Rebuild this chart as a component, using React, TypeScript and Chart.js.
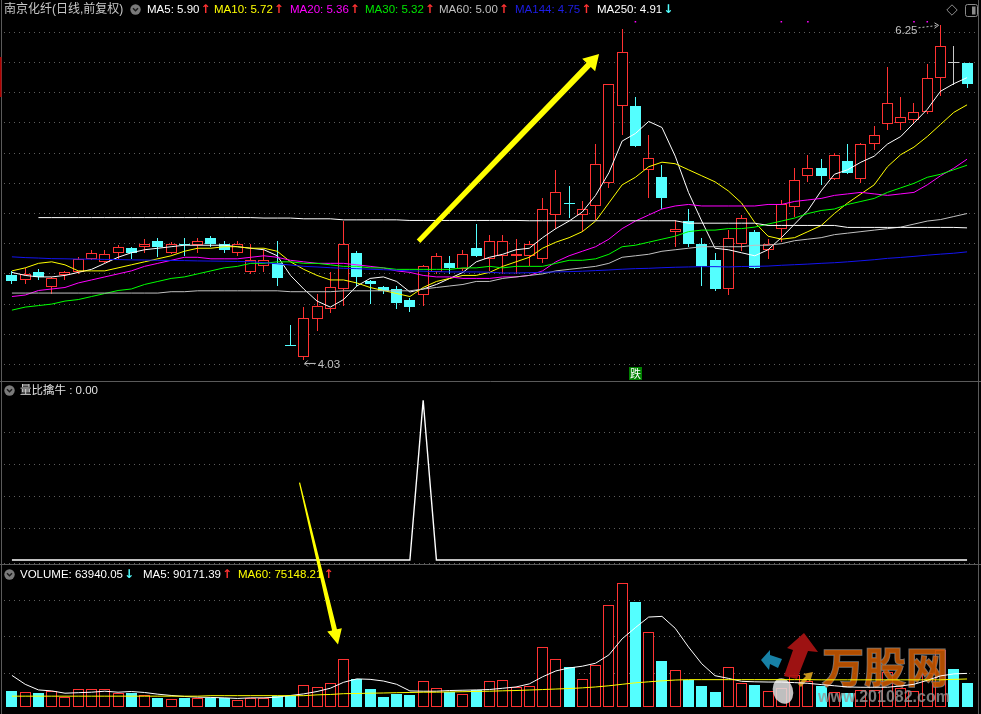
import React, { useEffect, useRef } from 'react';
import { Chart, registerables } from 'chart.js';

Chart.register(...registerables);

// ---------------- data ----------------
const days = Array.from({ length: 73 }, (_, i) => i);

const open = [4.59, 4.56, 4.61, 4.51, 4.59, 4.61, 4.70, 4.68, 4.74, 4.77,
  4.78, 4.82, 4.74, 4.80, 4.79, 4.84, 4.80, 4.74, 4.61, 4.65,
  4.67, 4.13, 4.05, 4.30, 4.37, 4.50, 4.74, 4.55, 4.51, 4.50,
  4.43, 4.46, 4.61, 4.67, 4.63, 4.77, 4.70, 4.72, 4.72, 4.72,
  4.70, 4.99, 5.07, 4.99, 5.05, 5.20, 5.71, 5.71, 5.29, 5.24,
  4.88, 4.95, 4.80, 4.69, 4.50, 4.80, 4.88, 4.76, 4.90, 5.04,
  5.25, 5.30, 5.23, 5.35, 5.23, 5.46, 5.59, 5.60, 5.62, 5.67,
  5.90, 6.00, 6.00];
const high = [4.62, 4.64, 4.63, 4.58, 4.62, 4.71, 4.76, 4.76, 4.79, 4.78,
  4.83, 4.84, 4.81, 4.84, 4.84, 4.85, 4.82, 4.82, 4.80, 4.76,
  4.82, 4.26, 4.38, 4.47, 4.61, 4.95, 4.75, 4.56, 4.52, 4.52,
  4.44, 4.66, 4.74, 4.72, 4.76, 4.93, 4.86, 4.86, 4.83, 4.82,
  5.10, 5.29, 5.18, 5.08, 5.46, 5.86, 6.22, 5.77, 5.52, 5.32,
  4.96, 5.03, 4.84, 4.74, 4.89, 4.99, 4.89, 4.83, 5.09, 5.30,
  5.39, 5.36, 5.40, 5.46, 5.47, 5.58, 5.97, 5.77, 5.73, 5.99,
  6.25, 6.11, 6.00];
const low = [4.53, 4.53, 4.56, 4.47, 4.56, 4.60, 4.69, 4.67, 4.70, 4.70,
  4.74, 4.71, 4.73, 4.72, 4.74, 4.78, 4.74, 4.72, 4.60, 4.61,
  4.52, 4.12, 4.03, 4.22, 4.34, 4.39, 4.52, 4.40, 4.47, 4.37,
  4.35, 4.39, 4.60, 4.60, 4.62, 4.71, 4.62, 4.60, 4.60, 4.65,
  4.67, 4.90, 4.97, 4.88, 4.96, 5.17, 5.52, 5.44, 5.10, 5.03,
  4.78, 4.78, 4.52, 4.49, 4.46, 4.75, 4.63, 4.70, 4.81, 4.98,
  5.21, 5.19, 5.22, 5.26, 5.20, 5.42, 5.55, 5.55, 5.60, 5.66,
  5.78, 5.85, 5.83];
const close = [4.55, 4.60, 4.58, 4.57, 4.61, 4.70, 4.74, 4.73, 4.78, 4.74,
  4.80, 4.78, 4.80, 4.79, 4.82, 4.80, 4.76, 4.80, 4.69, 4.69,
  4.57, 4.12, 4.31, 4.39, 4.51, 4.80, 4.58, 4.53, 4.49, 4.41,
  4.38, 4.65, 4.72, 4.64, 4.73, 4.72, 4.82, 4.82, 4.73, 4.80,
  5.03, 5.14, 5.06, 5.03, 5.33, 5.86, 6.07, 5.45, 5.37, 5.10,
  4.90, 4.80, 4.65, 4.50, 4.84, 4.97, 4.64, 4.80, 5.06, 5.22,
  5.30, 5.25, 5.39, 5.27, 5.46, 5.52, 5.73, 5.64, 5.67, 5.90,
  6.11, 6.00, 5.86];

const ma5 = [4.61, 4.59, 4.58, 4.58, 4.59, 4.61, 4.63, 4.67, 4.71, 4.74,
  4.76, 4.77, 4.78, 4.79, 4.79, 4.79, 4.79, 4.78, 4.77, 4.76,
  4.72, 4.59, 4.50, 4.42, 4.38, 4.43, 4.52, 4.57, 4.58, 4.55,
  4.48, 4.50, 4.53, 4.57, 4.61, 4.68, 4.71, 4.73, 4.76, 4.77,
  4.84, 4.90, 4.95, 5.01, 5.12, 5.27, 5.48, 5.53, 5.61, 5.57,
  5.38, 5.14, 4.95, 4.77, 4.76, 4.74, 4.72, 4.76, 4.84, 4.93,
  5.02, 5.15, 5.26, 5.29, 5.34, 5.38, 5.46, 5.51, 5.60, 5.69,
  5.81, 5.86, 5.90];
const ma10 = [4.62, 4.64, 4.67, 4.68, 4.66, 4.62, 4.62, 4.62, 4.64, 4.66,
  4.68, 4.70, 4.72, 4.75, 4.77, 4.77, 4.78, 4.78, 4.77, 4.77,
  4.75, 4.68, 4.63, 4.59, 4.56, 4.56, 4.54, 4.51, 4.49, 4.47,
  4.45, 4.51, 4.55, 4.57, 4.59, 4.59, 4.61, 4.65, 4.68, 4.71,
  4.77, 4.81, 4.84, 4.88, 4.95, 5.07, 5.19, 5.24, 5.31, 5.34,
  5.33, 5.29, 5.25, 5.21, 5.15, 5.07, 4.94, 4.85, 4.83, 4.84,
  4.88, 4.92, 5.00, 5.07, 5.13, 5.19, 5.31, 5.39, 5.44, 5.51,
  5.59, 5.67, 5.72];
const ma20 = [4.45, 4.46, 4.49, 4.50, 4.51, 4.54, 4.56, 4.58, 4.60, 4.62,
  4.65, 4.67, 4.69, 4.71, 4.71, 4.70, 4.70, 4.70, 4.71, 4.72,
  4.71, 4.69, 4.68, 4.67, 4.67, 4.67, 4.66, 4.65, 4.64, 4.62,
  4.61, 4.59, 4.58, 4.58, 4.57, 4.57, 4.57, 4.58, 4.58, 4.59,
  4.62, 4.68, 4.72, 4.75, 4.78, 4.83, 4.90, 4.95, 4.99, 5.03,
  5.05, 5.06, 5.05, 5.05, 5.05, 5.05, 5.05, 5.06, 5.06, 5.08,
  5.09, 5.10, 5.12, 5.13, 5.14, 5.13, 5.12, 5.13, 5.14, 5.19,
  5.25, 5.30, 5.36];
const ma30 = [4.36, 4.38, 4.39, 4.40, 4.42, 4.43, 4.45, 4.47, 4.49, 4.50,
  4.53, 4.55, 4.57, 4.58, 4.60, 4.62, 4.64, 4.65, 4.67, 4.67,
  4.68, 4.68, 4.67, 4.67, 4.66, 4.65, 4.65, 4.64, 4.64, 4.63,
  4.63, 4.63, 4.63, 4.63, 4.64, 4.64, 4.65, 4.64, 4.65, 4.65,
  4.65, 4.67, 4.69, 4.69, 4.70, 4.73, 4.78, 4.79, 4.81, 4.83,
  4.85, 4.88, 4.89, 4.89, 4.90, 4.90, 4.91, 4.93, 4.95, 4.97,
  5.00, 5.02, 5.03, 5.06, 5.08, 5.10, 5.14, 5.17, 5.20, 5.24,
  5.26, 5.29, 5.32];
const ma60 = [4.473, 4.473, 4.473, 4.473, 4.473, 4.473, 4.473, 4.473, 4.473, 4.473,
  4.473, 4.473, 4.482, 4.482, 4.488, 4.488, 4.488, 4.488, 4.488, 4.488,
  4.488, 4.482, 4.482, 4.482, 4.482, 4.488, 4.488, 4.488, 4.488, 4.488,
  4.488, 4.50, 4.51, 4.52, 4.53, 4.55, 4.55, 4.57, 4.58, 4.59,
  4.60, 4.62, 4.63, 4.64, 4.65, 4.67, 4.71, 4.72, 4.73, 4.75,
  4.76, 4.77, 4.78, 4.78, 4.78, 4.78, 4.79, 4.79, 4.80, 4.82,
  4.83, 4.84, 4.86, 4.87, 4.88, 4.89, 4.90, 4.91, 4.93, 4.95,
  4.96, 4.98, 5.00];
const ma144 = [4.713, 4.708, 4.705, 4.701, 4.700, 4.698, 4.698, 4.696, 4.695, 4.693,
  4.692, 4.690, 4.689, 4.688, 4.686, 4.685, 4.684, 4.682, 4.681, 4.674,
  4.667, 4.659, 4.650, 4.646, 4.641, 4.637, 4.635, 4.631, 4.628, 4.624,
  4.620, 4.618, 4.615, 4.613, 4.613, 4.613, 4.611, 4.606, 4.606, 4.608,
  4.611, 4.613, 4.615, 4.618, 4.622, 4.626, 4.631, 4.635, 4.637, 4.641,
  4.644, 4.646, 4.648, 4.648, 4.646, 4.649, 4.650, 4.652, 4.657, 4.661,
  4.665, 4.670, 4.674, 4.680, 4.687, 4.694, 4.703, 4.709, 4.716, 4.724,
  4.731, 4.737, 4.746];
const ma250 = [null, null, 4.973, 4.973, 4.973, 4.973, 4.973, 4.973, 4.973, 4.973,
  4.973, 4.973, 4.973, 4.973, 4.973, 4.973, 4.973, 4.973, 4.973, 4.970,
  4.970, 4.970, 4.965, 4.965, 4.965, 4.958, 4.958, 4.958, 4.958, 4.958,
  4.954, 4.954, 4.954, 4.954, 4.954, 4.954, 4.954, 4.954, 4.954, 4.952,
  4.952, 4.952, 4.952, 4.952, 4.952, 4.952, 4.952, 4.952, 4.952, 4.952,
  4.952, 4.936, 4.936, 4.936, 4.936, 4.936, 4.936, 4.921, 4.921, 4.921,
  4.921, 4.921, 4.921, 4.908, 4.908, 4.908, 4.908, 4.908, 4.908, 4.908,
  4.908, 4.908, 4.905];

const volume = [42400, 38960, 37100, 44260, 26500, 47700, 47700, 48200, 37100, 37100,
  31800, 24650, 21200, 23050, 24650, 23050, 23050, 17750, 24650, 23050,
  28350, 28350, 60150, 54850, 63600, 129050, 76050, 47700, 26500, 34450,
  31800, 68900, 52200, 38960, 33650, 46900, 68900, 71550, 54850, 55650,
  160850, 129050, 107850, 74200, 113150, 272150, 333100, 280900, 200600, 124550,
  99900, 71550, 55650, 39750, 107850, 63600, 60100, 42400, 50000, 85000,
  70000, 55650, 40000, 38000, 45000, 45000, 95000, 50000, 42500, 91000,
  153000, 100700, 63940.05];
const volMa5 = [84800, 60950, 45850, 43200, 37100, 38430, 39750, 42400, 39750, 41600,
  38960, 34450, 31000, 28350, 26500, 25700, 24650, 23050, 24650, 24650,
  26500, 31000, 35250, 41600, 50350, 66250, 75500, 74200, 69700, 60950,
  43200, 42400, 42400, 44260, 45050, 45850, 46900, 50350, 53800, 62000,
  81000, 96700, 104700, 109450, 117400, 139650, 182850, 212800, 241150, 243000,
  211000, 161000, 116000, 84000, 76850, 68900, 67600, 67000, 67000, 65450,
  63600, 60150, 56980, 53800, 53000, 53000, 53000, 56450, 60950, 71550,
  83500, 88800, 90171.39];
const volMa60 = [29150, 29150, 29150, 29150, 29150, 29150, 29150, 29150, 29150, 29150,
  29150, 29150, 29150, 29150, 29150, 30475, 30475, 30475, 30475, 30475,
  30475, 30475, 30475, 32600, 33650, 35775, 36300, 37100, 37630, 38425,
  38955, 39750, 39750, 40545, 41075, 41870, 42400, 43460, 44255, 45580,
  46905, 48230, 49555, 51410, 53795, 56975, 60950, 64925, 67575, 70225,
  72345, 73405, 73405, 73405, 73405, 73405, 73405, 73405, 73405, 73405,
  73405, 72875, 72875, 72875, 72875, 72875, 72875, 72875, 72875, 72875,
  72875, 74200, 75148.21];

// 量比擒牛 signal
const signal = [0, 0, 0, 0, 0, 0, 0, 0, 0, 0,
  0, 0, 0, 0, 0, 0, 0, 0, 0, 0,
  0, 0, 0, 0, 0, 0, 0, 0, 0, 0,
  0, 1, 0, 0, 0, 0, 0, 0, 0, 0,
  0, 0, 0, 0, 0, 0, 0, 0, 0, 0,
  0, 0, 0, 0, 0, 0, 0, 0, 0, 0,
  0, 0, 0, 0, 0, 0, 0, 0, 0, 0,
  0, 0, 0];

const markerDays = [47, 58, 60, 68, 69];
const markerLevel = 6.27;
const tagDay = 47;
const tagText = '跌';

// annotation arrows (x = day index, y in each pane's units)
const arrowUpFrom = { x: 30.65, y: 4.816 };
const arrowUpTo = { x: 44.26, y: 6.056 };
const arrowDownFrom = { x: 21.68, y: 0.4845 }; // 量比 pane
const arrowDownTo = { x: 24.58, y: 167700 }; // volume pane

const priceTicks = { min: 3.889, max: 6.388, step: 0.2 };
const sigTicks = { min: -0.0229, max: 1.1188, step: 0.2 };
const volTicks = { min: -7950, max: 384250, step: 100000 };

const titleText = '南京化纤(日线,前复权)';
const maLegend = [
  { t: 'MA5: 5.90', c: '#FFFFFF', a: '↑', ac: '#FF3232' },
  { t: 'MA10: 5.72', c: '#FFFF00', a: '↑', ac: '#FF3232' },
  { t: 'MA20: 5.36', c: '#FF00FF', a: '↑', ac: '#FF3232' },
  { t: 'MA30: 5.32', c: '#00E600', a: '↑', ac: '#FF3232' },
  { t: 'MA60: 5.00', c: '#C0C0C0', a: '↑', ac: '#FF3232' },
  { t: 'MA144: 4.75', c: '#1E1EE6', a: '↑', ac: '#FF3232' },
  { t: 'MA250: 4.91', c: '#FFFFFF', a: '↓', ac: '#54FFFF' },
];
const maLegendX = [147, 214, 290, 365, 439, 515, 597];
const sigTitle = '量比擒牛 : 0.00';
const volLegend = [
  { t: 'VOLUME: 63940.05', c: '#FFFFFF', a: '↓', ac: '#54FFFF' },
  { t: 'MA5: 90171.39', c: '#FFFFFF', a: '↑', ac: '#FF3232' },
  { t: 'MA60: 75148.21', c: '#FFFF00', a: '↑', ac: '#FF3232' },
];
const volLegendX = [20, 143, 238];

// ---------------- style ----------------
const RED = '#FF3232';
const CYAN = '#54FFFF';
const DOJI = '#C8C8C8';
const GRID = '#5e5e5e';
const FONT = 'Arial, "Liberation Sans", "Noto Sans CJK SC", sans-serif';

const candleColor = (i: number) => (close[i] > open[i] ? RED : close[i] < open[i] ? CYAN : DOJI);
const volColor = (i: number) => (close[i] > open[i] ? RED : CYAN);

function drawArrow(ctx: CanvasRenderingContext2D, x0: number, y0: number, x1: number, y1: number,
  w0: number, w1: number, headLen: number, headHalf: number, color: string) {
  const dx = x1 - x0, dy = y1 - y0;
  const L = Math.hypot(dx, dy);
  const ux = dx / L, uy = dy / L;
  const nx = -uy, ny = ux;
  const bx = x1 - ux * headLen, by = y1 - uy * headLen;
  ctx.beginPath();
  ctx.moveTo(x0 + nx * w0 / 2, y0 + ny * w0 / 2);
  ctx.lineTo(bx + nx * w1 / 2, by + ny * w1 / 2);
  ctx.lineTo(bx + nx * headHalf, by + ny * headHalf);
  ctx.lineTo(x1, y1);
  ctx.lineTo(bx - nx * headHalf, by - ny * headHalf);
  ctx.lineTo(bx - nx * w1 / 2, by - ny * w1 / 2);
  ctx.lineTo(x0 - nx * w0 / 2, y0 - ny * w0 / 2);
  ctx.closePath();
  ctx.fillStyle = color;
  ctx.fill();
}

function poly(ctx: CanvasRenderingContext2D, pts: number[][], color: string) {
  ctx.beginPath();
  pts.forEach((p, k) => (k ? ctx.lineTo(p[0], p[1]) : ctx.moveTo(p[0], p[1])));
  ctx.closePath();
  ctx.fillStyle = color;
  ctx.fill();
}

const framePlugin = {
  id: 'frame',
  beforeDatasetsDraw(chart: any) {
    const { ctx, scales, width, height } = chart;
    // snap bar rectangles to whole pixels so thin outlines stay crisp
    chart.getSortedVisibleDatasetMetas().forEach((meta: any) => {
      if (meta.type !== 'bar') return;
      meta.data.forEach((el: any) => {
        el.x = Math.floor(el.x) + 0.5;
        let y = Math.round(el.y);
        let b = Math.round(el.base);
        if (Math.abs(b - y) < 1) b = y + 1;
        el.y = y;
        el.base = b;
      });
    });
    ctx.save();
    ctx.strokeStyle = '#5a5a5a';
    ctx.lineWidth = 1;
    ctx.beginPath();
    [scales.yi.top, scales.yv.top].forEach((t: number) => {
      const y = Math.round(t) + 0.5;
      ctx.moveTo(0, y);
      ctx.lineTo(width, y);
    });
    ctx.moveTo(1.5, 0);
    ctx.lineTo(1.5, height);
    ctx.moveTo(978.5, 0);
    ctx.lineTo(978.5, height);
    ctx.stroke();
    ctx.fillStyle = '#B00000';
    ctx.fillRect(0, 57, 1.5, 40);
    ctx.restore();
  },
  afterDatasetDraw(chart: any, args: any) {
    if (chart.data.datasets[args.index].label !== 'VOL') return;
    const { ctx } = chart;
    ctx.save();
    // watermark logo
    poly(ctx, [[784, 676], [793, 650], [787, 648], [804, 633], [818, 652], [808, 651], [797, 679]], 'rgba(170,20,20,0.92)');
    poly(ctx, [[761, 660], [770, 650], [770, 655], [782, 659], [778, 668], [770, 664], [769, 670]], 'rgba(25,140,180,0.92)');
    poly(ctx, [[798, 684], [806, 676], [803, 674], [813, 672], [810, 682], [808, 679], [801, 687]], 'rgba(215,160,30,0.92)');
    ctx.beginPath();
    ctx.ellipse(783, 691, 10, 13, -0.3, 0, Math.PI * 2);
    ctx.fillStyle = 'rgba(225,225,225,0.85)';
    ctx.fill();
    ctx.font = 'bold 42px "Noto Sans CJK SC", sans-serif';
    ctx.textBaseline = 'alphabetic';
    ctx.lineWidth = 1.5;
    ctx.strokeStyle = 'rgba(130,130,130,0.9)';
    ctx.strokeText('万股网', 822, 683);
    ctx.fillStyle = 'rgba(200,88,0,0.88)';
    ctx.fillText('万股网', 822, 683);
    ctx.font = 'bold 16px Arial, "Liberation Sans", sans-serif';
    ctx.fillStyle = 'rgba(150,150,150,0.8)';
    ctx.fillText('www.201082.com', 818, 702);
    ctx.restore();
  },
  afterDatasetsDraw(chart: any) {
    const { ctx, scales } = chart;
    const xs = scales.x, yp = scales.y, yi = scales.yi, yv = scales.yv;
    ctx.save();
    // low / high labels
    const lowV = Math.min(...low);
    const iLow = low.indexOf(lowV);
    const highV = Math.max(...high);
    const iHigh = high.indexOf(highV);
    ctx.font = '11.5px Arial, "Liberation Sans", sans-serif';
    ctx.fillStyle = '#C0C0C0';
    ctx.strokeStyle = '#C0C0C0';
    ctx.lineWidth = 1;
    const lx = xs.getPixelForValue(iLow), ly = yp.getPixelForValue(lowV);
    ctx.beginPath();
    ctx.moveTo(lx + 12, ly + 3.5);
    ctx.lineTo(lx + 1, ly + 3.5);
    ctx.moveTo(lx + 1, ly + 3.5);
    ctx.lineTo(lx + 4, ly + 0.5);
    ctx.moveTo(lx + 1, ly + 3.5);
    ctx.lineTo(lx + 4, ly + 6.5);
    ctx.stroke();
    ctx.textAlign = 'left';
    ctx.fillText(lowV.toFixed(2), lx + 14, ly + 8.5);
    const hx = xs.getPixelForValue(iHigh), hy = yp.getPixelForValue(highV);
    ctx.textAlign = 'right';
    ctx.fillText(highV.toFixed(2), hx - 23, hy + 9.5);
    ctx.setLineDash([2, 2]);
    ctx.beginPath();
    ctx.moveTo(hx - 22, hy + 3);
    ctx.lineTo(hx - 2, hy + 0.5);
    ctx.stroke();
    ctx.setLineDash([]);
    ctx.beginPath();
    ctx.moveTo(hx - 2, hy + 0.5);
    ctx.lineTo(hx - 6, hy - 2);
    ctx.moveTo(hx - 2, hy + 0.5);
    ctx.lineTo(hx - 6, hy + 3.5);
    ctx.stroke();
    // tag box
    const tx = xs.getPixelForValue(tagDay);
    ctx.fillStyle = '#008000';
    ctx.fillRect(Math.round(tx - 6.5), Math.round(yp.bottom - 14.5), 13, 13);
    ctx.fillStyle = '#FFFFFF';
    ctx.font = '11px "Noto Sans CJK SC", sans-serif';
    ctx.textAlign = 'center';
    ctx.textBaseline = 'middle';
    ctx.fillText(tagText, tx, Math.round(yp.bottom - 14.5) + 6.5);
    // yellow arrows
    drawArrow(ctx, xs.getPixelForValue(arrowUpFrom.x), yp.getPixelForValue(arrowUpFrom.y),
      xs.getPixelForValue(arrowUpTo.x), yp.getPixelForValue(arrowUpTo.y), 5, 6, 15, 9, '#FFFF00');
    drawArrow(ctx, xs.getPixelForValue(arrowDownFrom.x), yi.getPixelForValue(arrowDownFrom.y),
      xs.getPixelForValue(arrowDownTo.x), yv.getPixelForValue(arrowDownTo.y), 1.2, 5, 15, 7.5, '#FFFF00');
    ctx.restore();
  },
};

const gridOpts = (hide: (v: number) => boolean) => ({
  color: (c: any) => (c.tick && hide(c.tick.value) ? 'rgba(0,0,0,0)' : GRID),
  drawTicks: false,
  lineWidth: 1,
});

const Legend = ({ x, y, items }: { x: number; y: number; items: { t: string; c: string; a: string; ac: string } }) => (
  <div style={{ position: 'absolute', left: x, top: y, display: 'flex', alignItems: 'center', whiteSpace: 'nowrap', height: 14 }}>
    <span style={{ color: items.c, fontSize: 11.5, lineHeight: '14px' }}>{items.t}</span>
    <span style={{ color: items.ac, fontSize: 12, lineHeight: '14px', marginLeft: 1, fontFamily: '"DejaVu Sans", sans-serif', fontWeight: 'bold' }}>{items.a}</span>
  </div>
);

export default function App() {
  const ref = useRef<HTMLCanvasElement>(null);

  useEffect(() => {
    const canvas = ref.current;
    if (!canvas) return;
    const line = (label: string, arr: (number | null)[], color: string, axis: string, width = 1) => ({
      type: 'line',
      label,
      data: days.map((i) => ({ x: i, y: arr[i] })),
      yAxisID: axis,
      borderColor: color,
      borderWidth: width,
      pointRadius: 0,
      tension: 0,
      fill: false,
      spanGaps: false,
      order: 0,
    });
    const datasets: any[] = [
      {
        type: 'bar', label: 'wick', yAxisID: 'y',
        data: days.map((i) => ({ x: i, y: [low[i], high[i]] })),
        backgroundColor: days.map(candleColor),
        borderWidth: 0, barThickness: 1, grouped: false, inflateAmount: 0, order: 5,
      },
      {
        type: 'bar', label: 'body', yAxisID: 'y',
        data: days.map((i) => ({ x: i, y: [open[i], close[i]] })),
        backgroundColor: days.map((i) => (close[i] > open[i] ? '#000000' : candleColor(i))),
        borderColor: days.map(candleColor),
        borderWidth: 1, borderSkipped: false, barThickness: 11, minBarLength: 1,
        grouped: false, inflateAmount: 0, order: 4,
      },
      {
        type: 'bar', label: 'VOL', yAxisID: 'yv',
        data: days.map((i) => ({ x: i, y: volume[i] })),
        backgroundColor: days.map((i) => (close[i] > open[i] ? '#000000' : CYAN)),
        borderColor: days.map(volColor),
        borderWidth: 1, borderSkipped: false, barThickness: 11,
        grouped: false, inflateAmount: 0, order: 3,
      },
      line('MA250', ma250, '#FFFFFF', 'y'),
      line('MA144', ma144, '#1414F0', 'y'),
      line('MA60', ma60, '#C0C0C0', 'y'),
      line('MA30', ma30, '#00FF00', 'y'),
      line('MA20', ma20, '#FF00FF', 'y'),
      line('MA10', ma10, '#FFFF00', 'y'),
      line('MA5', ma5, '#FFFFFF', 'y'),
      line('量比擒牛', signal, '#FFFFFF', 'yi', 1.4),
      line('VMA60', volMa60, '#FFFF00', 'yv'),
      line('VMA5', volMa5, '#FFFFFF', 'yv'),
      {
        type: 'scatter', label: 'marks', yAxisID: 'y',
        data: markerDays.map((d) => ({ x: d, y: markerLevel })),
        pointStyle: 'rect', pointRadius: 1.1, backgroundColor: '#FF00FF', borderWidth: 0, order: 0,
      },
    ];

    const chart = new Chart(canvas, {
      type: 'bar',
      data: { datasets },
      plugins: [framePlugin as any],
      options: {
        responsive: false,
        maintainAspectRatio: false,
        animation: false,
        events: [],
        devicePixelRatio: 1,
        layout: { padding: 0 },
        plugins: { legend: { display: false }, tooltip: { enabled: false } },
        scales: {
          x: { type: 'linear', display: false, offset: false, min: -0.598, max: 72.75 },
          y: {
            type: 'linear', position: 'left', stack: 'panes', stackWeight: 381.5, weight: 3,
            min: priceTicks.min, max: priceTicks.max,
            ticks: { display: false, stepSize: priceTicks.step, includeBounds: false },
            grid: gridOpts(() => false),
            border: { display: false, dash: [1, 4] },
          },
          yi: {
            type: 'linear', position: 'left', stack: 'panes', stackWeight: 184.5, weight: 2,
            min: sigTicks.min, max: sigTicks.max,
            ticks: { display: false, stepSize: sigTicks.step, includeBounds: false },
            grid: gridOpts((v) => v < 0.1 || v > 0.9),
            border: { display: false, dash: [1, 4] },
          },
          yv: {
            type: 'linear', position: 'left', stack: 'panes', stackWeight: 148, weight: 1,
            min: volTicks.min, max: volTicks.max,
            ticks: { display: false, stepSize: volTicks.step, includeBounds: false },
            grid: gridOpts((v) => v < 1),
            border: { display: false, dash: [1, 4] },
          },
        },
      } as any,
    });
    return () => chart.destroy();
  }, []);

  const icon = (x: number, y: number) => (
    <svg style={{ position: 'absolute', left: x, top: y }} width={11} height={11}>
      <circle cx={5.5} cy={5.5} r={5.2} fill="#7a7a7a" />
      <polyline points="3,4.3 5.5,6.8 8,4.3" fill="none" stroke="#1a1a1a" strokeWidth={1.5} />
    </svg>
  );

  return (
    <div style={{ position: 'fixed', left: 0, top: 0, width: 981, height: 714, background: '#000', overflow: 'hidden', fontFamily: FONT }}>
      <canvas ref={ref} width={981} height={714} style={{ position: 'absolute', left: 0, top: 0 }} />
      <span style={{ position: 'absolute', left: 4, top: 2, color: '#C8C8C8', fontSize: 12, lineHeight: '14px', whiteSpace: 'nowrap' }}>{titleText}</span>
      {icon(130, 4)}
      {maLegend.map((m, k) => (
        <Legend key={'ma' + k} x={maLegendX[k]} y={2} items={m} />
      ))}
      <svg style={{ position: 'absolute', left: 946, top: 4 }} width={12} height={12}>
        <polygon points="6,0.8 11.2,6 6,11.2 0.8,6" fill="none" stroke="#8a8a8a" strokeWidth={1} />
      </svg>
      <svg style={{ position: 'absolute', left: 965, top: 4 }} width={13} height={13}>
        <rect x={0.5} y={0.5} width={12} height={12} rx={2} fill="none" stroke="#8a8a8a" />
        <rect x={7} y={2.5} width={3.5} height={8} fill="#8a8a8a" />
      </svg>
      {icon(4, 385)}
      <span style={{ position: 'absolute', left: 20, top: 383, color: '#E0E0E0', fontSize: 11.5, lineHeight: '14px', whiteSpace: 'nowrap' }}>{sigTitle}</span>
      {icon(4, 569)}
      {volLegend.map((m, k) => (
        <Legend key={'v' + k} x={volLegendX[k]} y={567} items={m} />
      ))}
    </div>
  );
}
